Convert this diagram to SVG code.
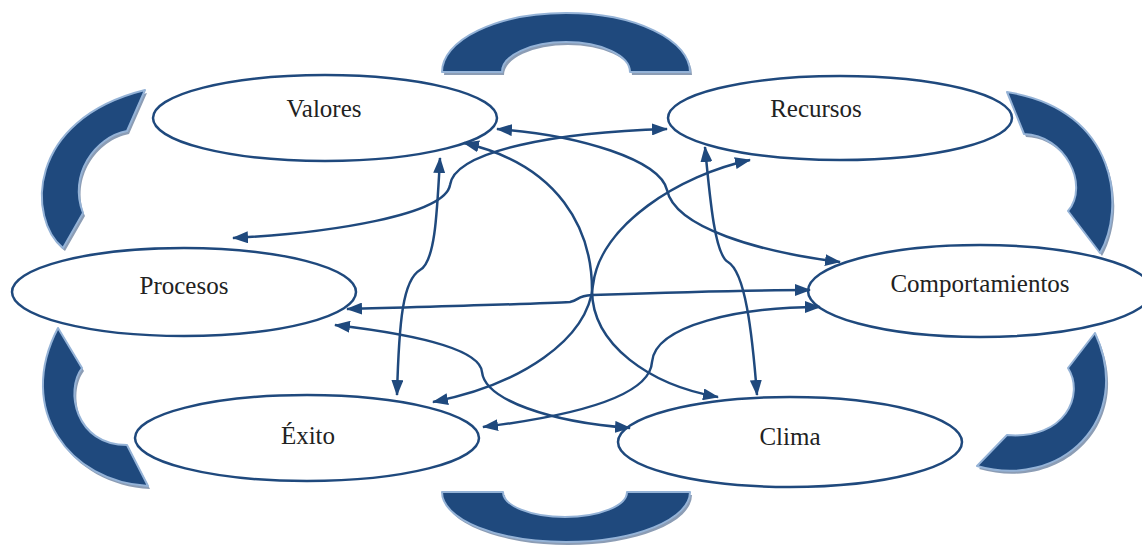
<svg xmlns="http://www.w3.org/2000/svg" xmlns:xlink="http://www.w3.org/1999/xlink" width="1142" height="548" viewBox="0 0 1142 548">
  <style>
    .node ellipse { fill: #ffffff; stroke: #1F497D; stroke-width: 2.5; }
    .node text { font-family: "Liberation Serif", "Times New Roman", serif; font-size: 25px; fill: #222222; text-anchor: middle; }
    .link { fill: none; stroke: #1F497D; stroke-width: 2.5; marker-start: url(#head); marker-end: url(#head); }
    .arc { fill: #1F497D; stroke: #95B3D7; stroke-width: 2; stroke-linejoin: round; }
    .arc-shadow { fill: #8C9DB5; stroke: none; }
  </style>
  <defs>
    <marker id="head" viewBox="0 0 16 12" refX="15" refY="6" markerWidth="16" markerHeight="12" markerUnits="userSpaceOnUse" orient="auto-start-reverse">
      <path d="M0,0 L16,6 L0,12 Z" fill="#1F497D"/>
    </marker>
    <!-- block arcs around the cycle -->
    <path id="arc-top" d="M442,72 A124,59 0 0 1 690,72 L630,72 A64,30 0 0 0 502,72 Z"/>
    <path id="arc-bottom" d="M442,492 L503,492 A62,25 0 0 0 627,492 L690,492 A124,50 0 0 1 442,492 Z"/>
    <path id="arc-ul" d="M145,90 L127,131 C95,137 68,175 83,213 L63,248 C28,220 25,120 145,90 Z"/>
    <path id="arc-ur" d="M1007,92 L1024,134 C1065,135 1090,185 1068,211 L1100,253 C1125,210 1120,110 1007,92 Z"/>
    <path id="arc-ll" d="M58,328 L82,368 C65,390 75,445 127,445 L148,486 C70,482 15,410 58,328 Z"/>
    <path id="arc-lr" d="M1095,333 L1068,368 C1085,395 1065,440 1007,435 L977,466 C1060,490 1135,420 1095,333 Z"/>
  </defs>

  <!-- cycle arcs: shadow then body -->
  <g id="cycle-arcs">
    <g transform="translate(2,3)">
      <use xlink:href="#arc-top" class="arc-shadow"/>
      <use xlink:href="#arc-bottom" class="arc-shadow"/>
      <use xlink:href="#arc-ul" class="arc-shadow"/>
      <use xlink:href="#arc-ur" class="arc-shadow"/>
      <use xlink:href="#arc-ll" class="arc-shadow"/>
      <use xlink:href="#arc-lr" class="arc-shadow"/>
    </g>
    <use xlink:href="#arc-top" class="arc"/>
    <use xlink:href="#arc-bottom" class="arc"/>
    <use xlink:href="#arc-ul" class="arc"/>
    <use xlink:href="#arc-ur" class="arc"/>
    <use xlink:href="#arc-ll" class="arc"/>
    <use xlink:href="#arc-lr" class="arc"/>
  </g>

  <g id="valores" class="node">
    <ellipse cx="325" cy="118" rx="172" ry="43"/>
    <text x="324" y="117">Valores</text>
  </g>
  <g id="recursos" class="node">
    <ellipse cx="840" cy="118" rx="172" ry="42"/>
    <text x="816" y="117">Recursos</text>
  </g>
  <g id="procesos" class="node">
    <ellipse cx="184" cy="292" rx="172" ry="44"/>
    <text x="184" y="294">Procesos</text>
  </g>
  <g id="comportamientos" class="node">
    <ellipse cx="980" cy="291" rx="172" ry="46"/>
    <text x="980" y="292">Comportamientos</text>
  </g>
  <g id="exito" class="node">
    <ellipse cx="307" cy="438" rx="172" ry="43"/>
    <text x="308" y="444">Éxito</text>
  </g>
  <g id="clima" class="node">
    <ellipse cx="790" cy="442" rx="172" ry="45"/>
    <text x="790" y="445">Clima</text>
  </g>

  <g id="connectors">
    <!-- Valores - Clima -->
    <path class="link" d="M464,143 C560,165 592,230 592,290 C592,345 650,385 718,397"/>
    <!-- Valores - Comportamientos -->
    <path class="link" d="M497,129 C580,135 660,160 667,190 C675,228 760,252 840,262"/>
    <!-- Procesos - Recursos -->
    <path class="link" d="M233,238 C330,233 445,215 450,185 C455,150 560,132 667,129"/>
    <!-- Valores - Éxito -->
    <path class="link" d="M440,158 C437,215 435,262 420,270 C403,280 399,320 397,395"/>
    <!-- Recursos - Clima -->
    <path class="link" d="M705,147 C710,200 715,255 728,262 C745,272 752,330 757,395"/>
    <!-- Recursos - Éxito -->
    <path class="link" d="M750,160 C680,175 600,225 593,285 C588,340 520,385 433,402"/>
    <!-- Procesos - Comportamientos -->
    <path class="link" d="M347,309 C450,306 540,304 570,302 C580,300 576,296 592,295 C680,292 750,290 810,290"/>
    <!-- Procesos - Clima -->
    <path class="link" d="M335,325 C420,335 480,350 482,372 C485,400 550,422 630,428"/>
    <!-- Éxito - Comportamientos -->
    <path class="link" d="M483,427 C580,415 650,395 652,362 C655,325 740,307 820,307"/>
  </g>
</svg>
